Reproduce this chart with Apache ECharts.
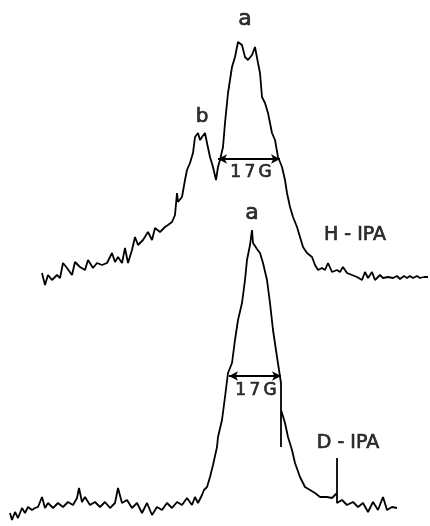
<!DOCTYPE html>
<html><head><meta charset="utf-8">
<script src="https://cdn.jsdelivr.net/npm/echarts@6/dist/echarts.min.js"></script>
<style>html,body{margin:0;padding:0;background:#fff}#c{width:430px;height:526px}</style>
</head><body><div id="c"></div>
<script>
// Field position (x) and signal (y, page-down units)
const hIPA = [[42,273],[45,285],[48,275],[52,280],[57,275],[60,278],[63,263],[67,268],[72,275],[75,262],[80,267],[85,270],[88,260],[93,268],[97,263],[102,265],[107,263],[112,253],[115,262],[118,257],[122,263],[125,248],[128,263],[132,250],[135,237],[138,245],[143,240],[148,232],[152,240],[155,228],[160,232],[165,227],[168,225],[172,222],[175,215],[177,193],[178,202],[182,197],[185,180],[187,170],[190,163],[193,153],[195,137],[198,133],[200,140],[202,137],[205,133],[207,143],[210,157],[213,167],[216,180],[218,167],[220,160],[223,147],[225,123],[228,93],[232,67],[235,57],[238,42],[242,45],[245,57],[248,60],[252,55],[255,47],[258,63],[260,73],[262,97],[265,103],[268,113],[272,133],[275,140],[278,157],[282,167],[285,180],[287,193],[290,207],[293,217],[297,227],[300,237],[303,247],[307,253],[312,257],[315,265],[318,270],[322,268],[325,270],[328,263],[332,272],[337,270],[340,272],[343,267],[347,273],[352,275],[357,277],[362,280],[365,272],[368,278],[372,272],[375,280],[380,275],[383,278],[388,277],[393,278],[397,276],[400,279],[404,276],[407,278],[410,276],[413,278],[417,276],[420,278],[424,277],[428,277]];
const dIPA = [[10,513],[12,520],[15,512],[18,518],[22,508],[25,513],[28,507],[32,510],[35,508],[38,507],[42,497],[45,508],[48,503],[53,508],[58,503],[63,507],[68,502],[73,505],[77,498],[79,488],[82,502],[85,497],[90,505],[95,502],[100,507],[105,502],[110,508],[115,503],[118,488],[122,503],[127,500],[132,508],[137,503],[142,513],[147,503],[152,515],[157,507],[162,510],[167,503],[172,508],[177,502],[182,505],[187,498],[192,505],[195,497],[198,503],[202,495],[204,490],[207,487],[210,477],[213,465],[217,447],[218,437],[222,420],[225,397],[228,373],[232,363],[235,340],[238,320],[242,303],[245,280],[247,260],[250,245],[252,230],[253,243],[257,249],[260,253],[263,263],[267,280],[270,303],[273,330],[277,357],[279,370],[281,383],[281,447],[281,410],[282,413],[285,423],[288,437],[292,450],[295,463],[300,477],[305,487],[310,490],[315,493],[320,497],[327,497],[332,498],[337,493],[337,458],[337,503],[342,500],[347,505],[353,502],[358,507],[363,503],[368,512],[373,502],[378,510],[383,497],[387,510],[392,507],[397,508]];
// Line-width markers (17 G) and text labels
const widthMarks = [[[218,159],[280,159]],[[229,376],[281,376]]];
const labels = [
  {name:'a', value:[245,19], size:22},
  {name:'b', value:[202,117], size:20},
  {name:'1\u20097\u2009G', value:[251,173], size:17},
  {name:'H - IPA', value:[355,235], size:19},
  {name:'a', value:[252,213], size:22},
  {name:'1\u20097\u2009G', value:[256,391], size:17},
  {name:'D - IPA', value:[348,443], size:19}
];

const chart = echarts.init(document.getElementById('c'));
const lineStyle = {color:'#000', width:1.8};
chart.setOption({
  animation:false,
  grid:{left:0,right:0,top:0,bottom:0},
  xAxis:{type:'value',min:0,max:430,show:false},
  yAxis:{type:'value',min:0,max:526,inverse:true,show:false},
  series:[
    {type:'line',data:hIPA,showSymbol:false,lineStyle},
    {type:'line',data:dIPA,showSymbol:false,lineStyle,
      markLine:{silent:true,symbol:['arrow','arrow'],symbolSize:[7,9],label:{show:false},
        lineStyle:{color:'#000',width:1.8,type:'solid'},
        data:widthMarks.map(m=>[{coord:m[0]},{coord:m[1]}])}},
    {type:'scatter',symbolSize:0,
      data:labels.map(l=>({name:l.name,value:l.value,
        label:{show:true,position:'inside',formatter:'{b}',color:'#000',
          textBorderColor:'#000',textBorderWidth:0.7,
          fontFamily:'DejaVu Sans',fontSize:l.size}}))}
  ]
});
</script></body></html>
